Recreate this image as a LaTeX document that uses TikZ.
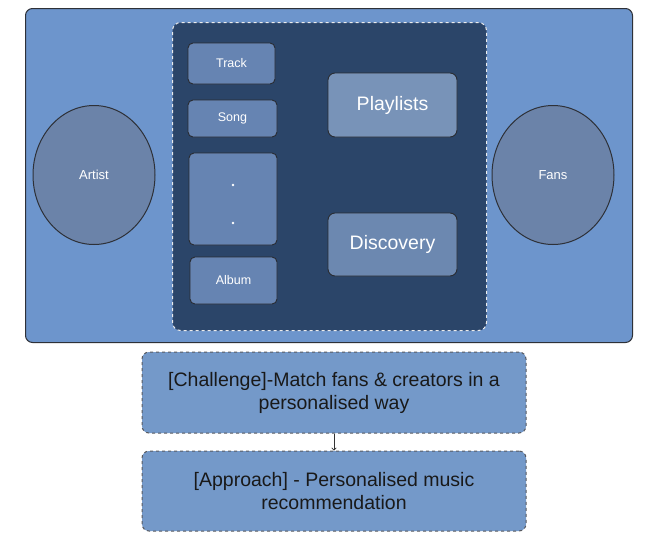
\documentclass[tikz,border=0pt]{standalone}
\usepackage{fontspec}
\setmainfont{Liberation Sans}
\usetikzlibrary{arrows.meta,shapes.geometric}
\definecolor{outerfill}{HTML}{6D95CC}
\definecolor{innerfill}{HTML}{2B4569}
\definecolor{smallfill}{HTML}{6684B2}
\definecolor{bigfill}{HTML}{7893B8}
\definecolor{discfill}{HTML}{6C88B0}
\definecolor{ellfill}{HTML}{6B83A9}
\definecolor{botfill}{HTML}{7499C9}
\definecolor{edge}{HTML}{2E3138}
\tikzset{
  outerbox/.style={draw=edge, line width=1pt, fill=outerfill, rounded corners=7pt},
  innerbox/.style={draw=white!85!gray, dashed, line width=1pt, fill=innerfill, rounded corners=8pt},
  itembox/.style={draw=edge!90!black, line width=0.9pt, fill=smallfill, rounded corners=5pt, text=white, font=\fontsize{12.5}{15}\selectfont},
  bigbox/.style={draw=edge!90!black, line width=0.9pt, fill=bigfill, rounded corners=7pt, text=white, font=\fontsize{19.5}{23}\selectfont},
  ellnode/.style={draw=edge, line width=1pt, fill=ellfill, ellipse, text=white, font=\fontsize{13}{15}\selectfont},
  botbox/.style={draw=edge!80, dashed, line width=1pt, fill=botfill, rounded corners=7pt, text=black!90, align=center, font=\fontsize{19.5}{23}\selectfont},
}
\begin{document}
\begin{tikzpicture}[x=1pt,y=-1pt]
\useasboundingbox (0,0) rectangle (662,547);
% outer
\node[outerbox, minimum width=607pt, minimum height=334pt, anchor=north west, inner sep=0pt] (outer) at (25,8) {};
\node[innerbox, minimum width=314pt, minimum height=308pt, anchor=north west, inner sep=0pt] (inner) at (172,22) {};
% ellipses
\node[ellnode, minimum width=122pt, minimum height=139pt] (artist) at (94,175) {Artist};
\node[ellnode, minimum width=122pt, minimum height=139pt] (fans) at (553,175) {Fans};
% items
\node[itembox, minimum width=87pt, minimum height=41pt, inner sep=0pt] (track) at (231.5,63.5) {Track};
\node[itembox, minimum width=89pt, minimum height=37pt, inner sep=0pt] (song) at (232.5,118.5) {Song};
\node[itembox, minimum width=88pt, minimum height=92pt, inner sep=0pt] (dots) at (233,199) {};
\fill[white] (233,185) circle (1.3pt) (233,223) circle (1.3pt);
\node[itembox, minimum width=87pt, minimum height=47pt, inner sep=0pt] (album) at (233.5,280.5) {Album};
\node[bigbox, minimum width=129pt, minimum height=64pt, inner sep=0pt] (playlists) at (392.5,105) {Playlists};
\node[bigbox, fill=discfill, minimum width=129pt, minimum height=63pt, inner sep=0pt] (discovery) at (392.5,244.5) {Discovery};
% bottom
\node[botbox, minimum width=384pt, minimum height=81pt, inner sep=0pt] (challenge) at (334,392.5) {[Challenge]-Match fans \& creators in a\\personalised way};
\node[botbox, minimum width=384pt, minimum height=80pt, inner sep=0pt] (approach) at (334,491) {[Approach] - Personalised music\\recommendation};
\draw[-{To[length=3pt,width=5pt]}, line width=0.7pt, black!80] (challenge.south) -- (approach.north);
\end{tikzpicture}
\end{document}
